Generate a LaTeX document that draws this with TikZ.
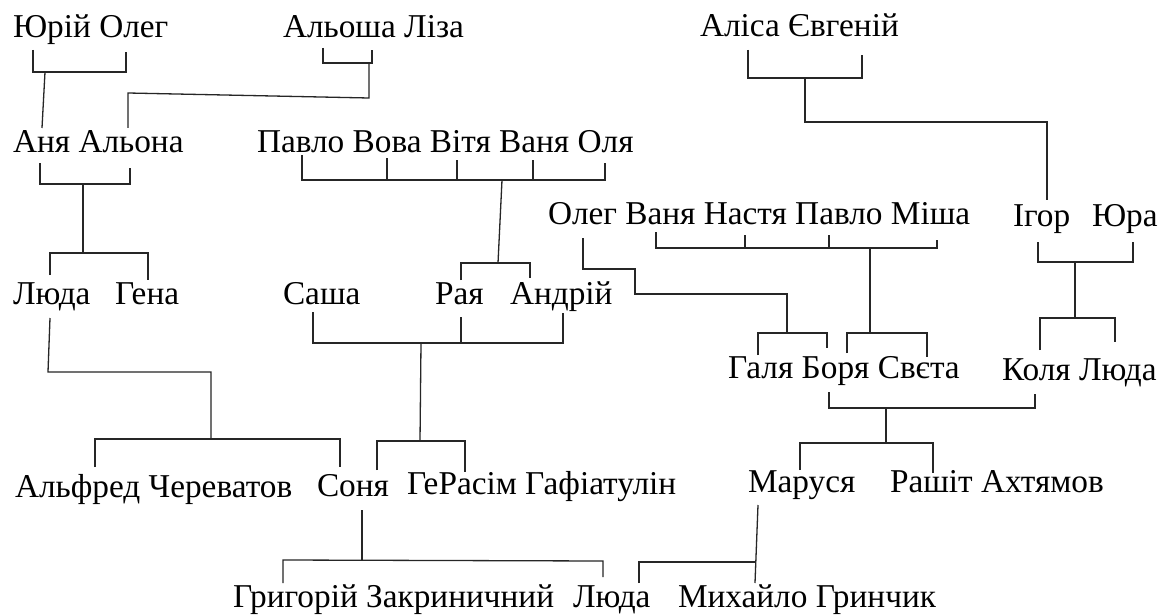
\documentclass[tikz,border=0pt]{standalone}
\usepackage{fontspec}
\setmainfont{Liberation Serif}
\begin{document}
\begin{tikzpicture}[x=1pt,y=-1pt,
  person/.style={anchor=base west,inner sep=0pt,outer sep=0pt,font=\fontsize{33.3}{36}\selectfont},
  link/.style={draw=black!85,line width=1.3pt,line cap=butt,line join=miter}]
\useasboundingbox[fill=white] (0,0) rectangle (1161,615);
% ---- names ----
\node[person] (yo)   at (13,38)  {Юрій Олег};
\node[person] (al)   at (283,38) {Альоша Ліза};
\node[person] (ae)   at (700,37) {Аліса Євгеній};
\node[person] (aa)   at (13,153) {Аня Альона};
\node[person] (pv)   at (257,152) {Павло Вова Вітя Ваня Оля};
\node[person] (ov)   at (548,224) {Олег Ваня Настя Павло Міша};
\node[person] (ig)   at (1013,226) {Ігор};
\node[person] (yu)   at (1092,226) {Юра};
\node[person] (lu1)  at (13,304) {Люда};
\node[person] (ge)   at (115,304) {Гена};
\node[person] (sa)   at (283,304) {Саша};
\node[person] (ra)   at (435,304) {Рая};
\node[person] (an)   at (510,304) {Андрій};
\node[person] (gbs)  at (728,378) {Галя Боря Свєта};
\node[person] (kl)   at (1002,380) {Коля Люда};
\node[person] (ach)  at (15,497) {Альфред Череватов};
\node[person] (so)   at (317,496) {Соня};
\node[person] (gg)   at (407,494) {ГеРасім Гафіатулін};
\node[person] (ma)   at (748,492) {Маруся};
\node[person] (rah)  at (890,492) {Рашіт Ахтямов};
\node[person] (gz)   at (233,607) {Григорій Закриничний};
\node[person] (lu2)  at (573,607) {Люда};
\node[person] (mg)   at (678,607) {Михайло Гринчик};
% ---- connectors ----
\draw[link] (33,50) -- (33,72) -- (126,72) -- (126,52);
\draw[link] (45,72) -- (42,128);
\draw[link] (323,48) -- (323,63) -- (372,63) -- (372,50);
\draw[link] (369,63) -- (369,98) -- (128,93) -- (128,128);
\draw[link] (748,50) -- (748,78) -- (862,78) -- (862,55);
\draw[link] (805,78) -- (805,122) -- (1047,122) -- (1047,200);
\draw[link] (40,163) -- (40,184) -- (130,184) -- (130,168);
\draw[link] (83,184) -- (83,253);
\draw[link] (50,275) -- (50,253) -- (148,253) -- (148,280);
\draw[link] (302,155) -- (302,180) -- (605,180) -- (605,163);
\draw[link] (387,158) -- (387,180);
\draw[link] (457,160) -- (457,180);
\draw[link] (533,160) -- (533,180);
\draw[link] (502,180) -- (498,263);
\draw[link] (461,280) -- (461,263) -- (530,263) -- (530,278);
\draw[link] (313,312) -- (313,343) -- (563,343) -- (563,313);
\draw[link] (461,317) -- (461,343);
\draw[link] (421,343) -- (420,441);
\draw[link] (377,470) -- (377,441) -- (465,441) -- (465,472);
\draw[link] (50,318) -- (48,372) -- (211,372) -- (211,439);
\draw[link] (95,467) -- (95,439) -- (340,439) -- (340,467);
\draw[link] (362,510) -- (362,560);
\draw[link] (283,583) -- (283,560) -- (603,561) -- (603,577);
\draw[link] (758,505) -- (755,583);
\draw[link] (639,583) -- (639,562) -- (756,562);
\draw[link] (583,238) -- (583,269) -- (635,269) -- (635,294) -- (787,294) -- (787,333);
\draw[link] (758,355) -- (758,333) -- (827,333) -- (827,348);
\draw[link] (656,232) -- (656,248) -- (937,248) -- (937,240);
\draw[link] (745,235) -- (745,248);
\draw[link] (829,235) -- (829,248);
\draw[link] (870,248) -- (870,333);
\draw[link] (847,353) -- (847,333) -- (927,333) -- (927,357);
\draw[link] (1038,242) -- (1038,262) -- (1133,262) -- (1133,242);
\draw[link] (1075,262) -- (1075,318);
\draw[link] (1040,350) -- (1040,318) -- (1115,318) -- (1115,342);
\draw[link] (829,392) -- (829,408) -- (1035,408) -- (1035,394);
\draw[link] (886,408) -- (886,443);
\draw[link] (800,470) -- (800,443) -- (933,443) -- (933,473);
\end{tikzpicture}
\end{document}
